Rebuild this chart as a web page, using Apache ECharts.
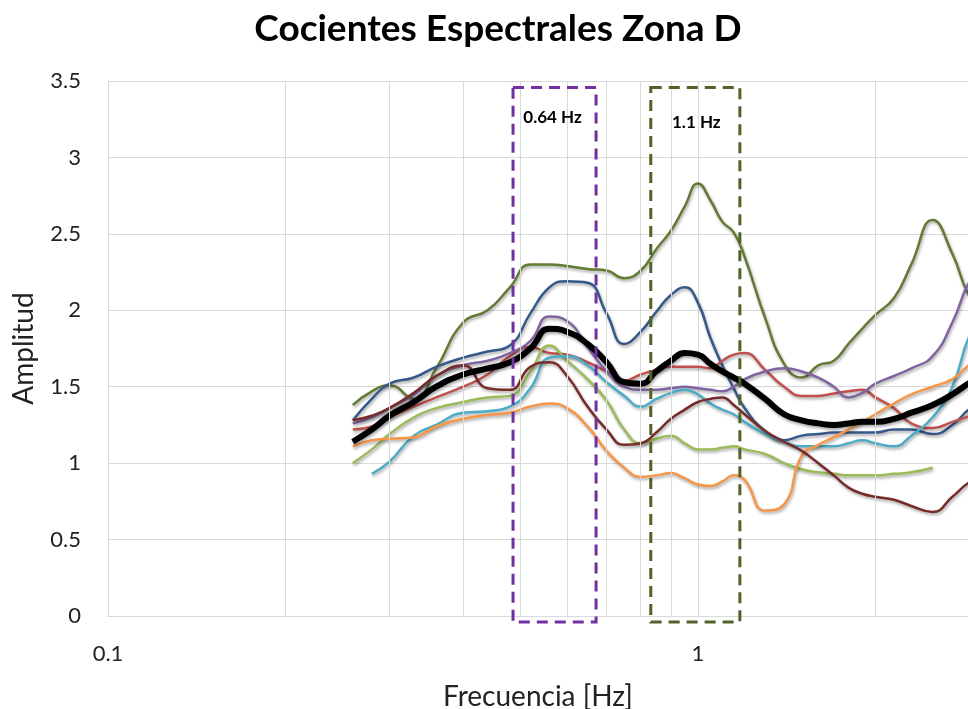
<!DOCTYPE html>
<html>
<head>
<meta charset="utf-8">
<script src="https://cdn.jsdelivr.net/npm/echarts@6/dist/echarts.min.js"></script>
<style>
html, body { margin: 0; padding: 0; background: #fff; }
#chart { width: 968px; height: 709px; }
</style>
</head>
<body>
<div id="chart"></div>
<script>
// frequencies (Hz) shared by every curve
var freqs = [0.26, 0.28, 0.3, 0.33, 0.36, 0.4, 0.44, 0.48, 0.52, 0.56, 0.6, 0.65, 0.7, 0.75, 0.8, 0.85, 0.9, 0.95,
    1, 1.05, 1.1, 1.15, 1.2, 1.3, 1.4, 1.5, 1.6, 1.7, 1.8, 1.9, 2, 2.15, 2.3, 2.5, 2.7, 2.9, 3.2];

var olive = [1.38, 1.47, 1.51, 1.42, 1.62, 1.92, 2.0, 2.15, 2.3, 2.3, 2.29, 2.27, 2.26, 2.21, 2.26, 2.4, 2.52, 2.68,
    2.83, 2.72, 2.58, 2.51, 2.35, 1.95, 1.65, 1.56, 1.64, 1.67, 1.78, 1.88, 1.97, 2.08, 2.3, 2.59, 2.37, 2.08, 1.9];
var blue = [1.28, 1.42, 1.52, 1.56, 1.63, 1.69, 1.73, 1.77, 1.98, 2.15, 2.19, 2.18, 1.98, 1.78, 1.86, 1.99, 2.1, 2.15,
    2.05, 1.82, 1.64, 1.49, 1.36, 1.21, 1.15, 1.18, 1.19, 1.2, 1.2, 1.2, 1.2, 1.22, 1.22, 1.19, 1.25, 1.36, 1.45];
var red = [1.22, 1.24, 1.3, 1.37, 1.43, 1.5, 1.58, 1.7, 1.76, 1.72, 1.71, 1.66, 1.6, 1.54, 1.58, 1.61, 1.63, 1.63,
    1.63, 1.62, 1.67, 1.71, 1.72, 1.61, 1.5, 1.44, 1.44, 1.455, 1.47, 1.48, 1.43, 1.36, 1.26, 1.23, 1.27, 1.31, 1.36];
var lightGreen = [1.0, 1.09, 1.19, 1.3, 1.36, 1.4, 1.43, 1.44, 1.6, 1.77, 1.67, 1.55, 1.41, 1.22, 1.13, 1.16, 1.18, 1.13,
    1.09, 1.09, 1.1, 1.11, 1.09, 1.06, 1.0, 0.96, 0.94, 0.93, 0.92, 0.92, 0.92, 0.93, 0.94, 0.97, null, null, null];
var purple = [1.26, 1.3, 1.36, 1.45, 1.57, 1.64, 1.67, 1.72, 1.8, 1.96, 1.93, 1.76, 1.6, 1.5, 1.48, 1.48, 1.49, 1.5,
    1.49, 1.48, 1.47, 1.5, 1.55, 1.6, 1.62, 1.6, 1.56, 1.5, 1.43, 1.46, 1.52, 1.57, 1.62, 1.7, 1.92, 2.2, 2.4];
var aqua = [null, 0.93, 1.01, 1.18, 1.25, 1.33, 1.34, 1.37, 1.49, 1.69, 1.7, 1.64, 1.53, 1.44, 1.37, 1.42, 1.46, 1.48,
    1.45, 1.39, 1.35, 1.32, 1.27, 1.19, 1.14, 1.11, 1.11, 1.11, 1.13, 1.15, 1.13, 1.11, 1.18, 1.3, 1.5, 1.85, 2.1];
var orange = [1.11, 1.15, 1.16, 1.17, 1.24, 1.29, 1.315, 1.33, 1.37, 1.39, 1.36, 1.24, 1.08, 0.97, 0.91, 0.92, 0.935, 0.9,
    0.86, 0.85, 0.88, 0.92, 0.89, 0.69, 0.73, 1.05, 1.12, 1.17, 1.22, 1.27, 1.32, 1.39, 1.45, 1.5, 1.55, 1.65, 1.75];
var maroon = [1.28, 1.31, 1.36, 1.46, 1.57, 1.64, 1.49, 1.48, 1.63, 1.66, 1.57, 1.37, 1.22, 1.12, 1.13, 1.2, 1.29, 1.35,
    1.4, 1.42, 1.43, 1.38, 1.32, 1.21, 1.14, 1.08, 1.0, 0.92, 0.84, 0.8, 0.78, 0.76, 0.72, 0.68, 0.78, 0.88, 0.95];
var mean = [1.14, 1.22, 1.31, 1.4, 1.5, 1.58, 1.62, 1.66, 1.75, 1.88, 1.86, 1.78, 1.66, 1.53, 1.52, 1.6, 1.67, 1.72,
    1.71, 1.65, 1.6, 1.56, 1.52, 1.42, 1.32, 1.28, 1.26, 1.25, 1.26, 1.27, 1.27, 1.29, 1.33, 1.38, 1.45, 1.53, 1.62];

// minor vertical grid lines of the log axis
var minorFreqs = [0.2, 0.3, 0.4, 0.5, 0.6, 0.7, 0.8, 0.9, 2];

// highlighted bands: [fmin, fmax], label
var bandRanges = [[0.486, 0.672], [0.832, 1.178]];
var bandLabels = ['0.64 Hz', '1.1 Hz'];
var bandTop = 3.458;
var bandBottom = -0.04;

function pairs(vals) {
    var out = [];
    for (var i = 0; i < freqs.length; i++) {
        if (vals[i] != null) out.push([freqs[i], vals[i]]);
    }
    return out;
}

function curve(name, vals, color, width, z) {
    return {
        name: name,
        type: 'line',
        data: pairs(vals),
        smooth: 0.5,
        showSymbol: false,
        symbol: 'none',
        z: z,
        lineStyle: {
            color: color,
            width: width,
            shadowColor: 'rgba(0,0,0,0.35)',
            shadowBlur: 3,
            shadowOffsetX: 1,
            shadowOffsetY: 2
        }
    };
}

var chart = echarts.init(document.getElementById('chart'));
var font = 'Lato, "Open Sans", sans-serif';

var option = {
    animation: false,
    backgroundColor: '#fff',
    title: {
        text: 'Cocientes Espectrales Zona D',
        left: 493,
        textAlign: 'center',
        top: 6,
        textStyle: { fontFamily: font, fontSize: 37, fontWeight: 'bold', color: '#000' }
    },
    // plot area runs a little past the right edge of the picture
    grid: { left: 108, top: 81, bottom: 93, right: 0, containLabel: false, outerBoundsMode: 'none' },
    xAxis: {
        type: 'log',
        logBase: 10,
        min: 0.1,
        max: 2.87,
        name: 'Frecuencia [Hz]',
        nameLocation: 'middle',
        nameGap: 67,
        nameTextStyle: { fontFamily: font, fontSize: 28, color: '#222' },
        axisLine: { show: true, lineStyle: { color: '#d9d9d9', width: 1 } },
        axisTick: { show: false },
        axisLabel: {
            fontFamily: font, fontSize: 22, color: '#222', margin: 27, showMaxLabel: false,
            formatter: function (v) { return String(+v.toPrecision(3)); }
        },
        splitLine: { show: true, lineStyle: { color: '#d9d9d9', width: 1 } }
    },
    yAxis: {
        type: 'value',
        min: 0,
        max: 3.5,
        interval: 0.5,
        name: 'Amplitud',
        nameLocation: 'middle',
        nameGap: 70,
        nameTextStyle: { fontFamily: font, fontSize: 28, color: '#222' },
        axisLine: { show: true, lineStyle: { color: '#d9d9d9', width: 1 } },
        axisTick: { show: false },
        axisLabel: { fontFamily: font, fontSize: 22, color: '#222', margin: 27 },
        splitLine: { show: true, lineStyle: { color: '#d9d9d9', width: 1 } }
    },
    series: [
        {
            name: 'grid',
            type: 'line',
            data: [],
            z: 1,
            silent: true,
            markLine: {
                silent: true,
                symbol: 'none',
                label: { show: false },
                lineStyle: { color: '#d9d9d9', width: 1, type: 'solid' },
                data: minorFreqs.map(function (f) { return { xAxis: f }; })
            }
        },
        curve('S1', olive, '#637a33', 2.5, 3),
        curve('S2', blue, '#35588a', 2.5, 3),
        curve('S3', red, '#c0504d', 2.5, 3),
        curve('S4', lightGreen, '#9bbb59', 2.5, 3),
        curve('S5', purple, '#8064a2', 2.5, 3),
        curve('S6', aqua, '#4bacc6', 2.5, 3),
        curve('S7', orange, '#f79646', 2.5, 3),
        curve('S8', maroon, '#772c2a', 2.5, 3),
        curve('Promedio', mean, '#000000', 6, 4)
    ]
};
chart.setOption(option);

// dashed boxes around the two frequency bands, placed through the axes
var boxColors = ['#7030a0', '#4f6228'];
var labelDy = [30, 35];
var labelDx = [-2, 1];
var graphics = [];
bandRanges.forEach(function (r, i) {
    var p0 = chart.convertToPixel({ gridIndex: 0 }, [r[0], bandTop]);
    var p1 = chart.convertToPixel({ gridIndex: 0 }, [r[1], bandBottom]);
    graphics.push({
        type: 'rect',
        z: 10,
        shape: { x: p0[0], y: p0[1], width: p1[0] - p0[0], height: p1[1] - p0[1] },
        style: { fill: 'none', stroke: boxColors[i], lineWidth: 3, lineDash: [11, 7] }
    });
    graphics.push({
        type: 'text',
        z: 11,
        x: (p0[0] + p1[0]) / 2 + labelDx[i],
        y: p0[1] + labelDy[i],
        style: {
            text: bandLabels[i],
            font: 'bold 17px ' + font,
            fill: '#000',
            align: 'center',
            verticalAlign: 'middle'
        }
    });
});
chart.setOption({ graphic: graphics });
</script>
</body>
</html>
